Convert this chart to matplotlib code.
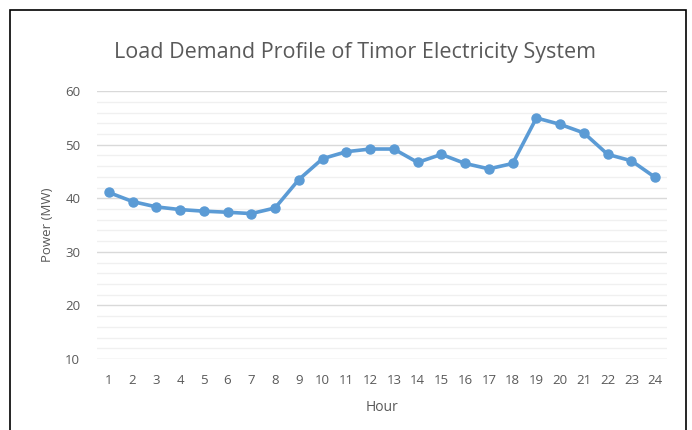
import matplotlib
matplotlib.use("Agg")
import matplotlib.pyplot as plt
from matplotlib.patches import Rectangle
from matplotlib.ticker import MultipleLocator

hours = list(range(1, 25))
load_mw = [41.1, 39.4, 38.4, 37.9, 37.6, 37.4, 37.15, 38.2, 43.5, 47.4, 48.7, 49.2,
           49.2, 46.7, 48.2, 46.5, 45.5, 46.5, 55.0, 53.8, 52.2, 48.2, 47.0, 43.9]

plt.rcParams['font.family'] = ['Open Sans', 'DejaVu Sans']
txt = '#595959'

fig = plt.figure(figsize=(6.92, 4.30), dpi=100)
ax = fig.add_axes([0.140, 0.165, 0.824, 0.623])

ax.plot(hours, load_mw, color='#5B9BD5', lw=2.6, marker='o', ms=6.5, zorder=3)

ax.set_xlim(0.5, 24.5)
ax.set_ylim(10, 60)
ax.set_xticks(hours)
ax.yaxis.set_major_locator(MultipleLocator(10))
ax.yaxis.set_minor_locator(MultipleLocator(2))
ax.grid(axis='y', which='major', color='#D9D9D9', lw=1)
ax.grid(axis='y', which='minor', color='#F0F0F0', lw=1)
ax.tick_params(which='both', length=0, colors=txt, labelsize=9.5)
ax.tick_params(axis='x', pad=11)
ax.tick_params(axis='y', pad=12)
for s in ax.spines.values():
    s.set_visible(False)

ax.set_xlabel('Hour', color=txt, fontsize=10, labelpad=9)
ax.set_ylabel('Power (MW)', color=txt, fontsize=9.5, labelpad=8)
fig.text(0.513, 0.878, 'Load Demand Profile of Timor Electricity System',
         ha='center', va='center', color=txt, fontsize=15.5)

fig.patches.append(Rectangle((10 / 692, -0.1), 676 / 692, 1.1 - 10 / 430,
                             transform=fig.transFigure, fill=False,
                             edgecolor='black', lw=1.2))

fig.savefig('out.png', dpi=100)
